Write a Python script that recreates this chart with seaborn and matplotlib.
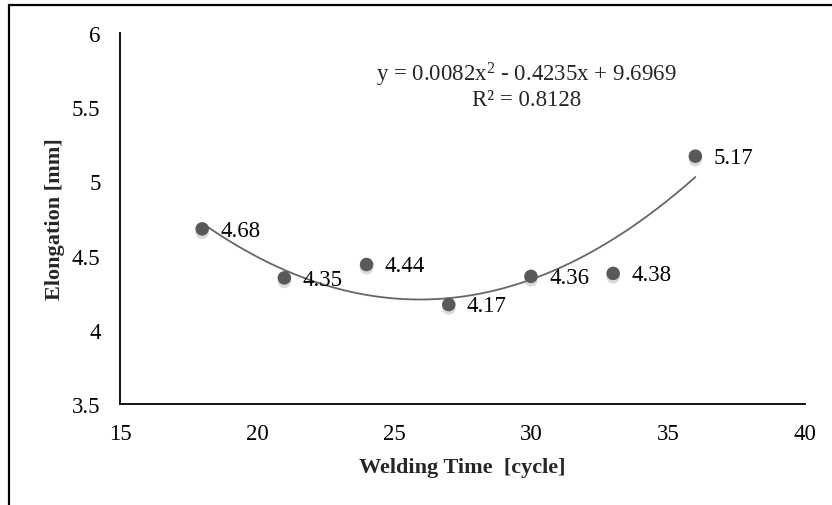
import numpy as np
import pandas as pd
import seaborn as sns
import matplotlib.pyplot as plt
import matplotlib.patheffects as pe
from matplotlib.lines import Line2D

# dados
welding_time = [18, 21, 24, 27, 30, 33, 36]
elongation = [4.68, 4.35, 4.44, 4.17, 4.36, 4.38, 5.17]
point_labels = ["4.68", "4.35", "4.44", "4.17", "4.36", "4.38", "5.17"]
x_ticks = [15, 20, 25, 30, 35, 40]
y_ticks = [3.5, 4, 4.5, 5, 5.5, 6]
y_tick_labels = ["3.5", "4", "4.5", "5", "5.5", "6"]
equation_text = "y = 0.0082x$^2$ - 0.4235x + 9.6969"
r2_text = "R² = 0.8128"

df = pd.DataFrame({"Welding Time": welding_time, "Elongation": elongation})

sns.set_theme(style="white")
plt.rcParams["font.family"] = ["Liberation Serif", "DejaVu Serif"]
plt.rcParams["mathtext.fontset"] = "custom"
plt.rcParams["mathtext.rm"] = "Liberation Serif"
plt.rcParams["mathtext.it"] = "Liberation Serif"

fig = plt.figure(figsize=(8.32, 5.06), dpi=100)
ax = fig.add_axes([0.1442, 0.1996, 0.8233, 0.7332])

# linha de tendência polinomial (ordem 2)
sns.regplot(data=df, x="Welding Time", y="Elongation", order=2, ci=None,
            scatter=False, truncate=True, ax=ax,
            line_kws=dict(color="#666666", linewidth=1.3))

# pontos com sombra leve
sns.scatterplot(data=df, x="Welding Time", y="Elongation", ax=ax, s=95,
                color="#595959", edgecolor="none", zorder=3)
for coll in ax.collections:
    coll.set_path_effects([pe.SimplePatchShadow(offset=(0, -2.5), shadow_rgbFace="#9a9a9a", alpha=0.35),
                           pe.Normal()])

for xv, yv, lab in zip(welding_time, elongation, point_labels):
    ax.annotate(lab, (xv, yv), xytext=(13, -1), textcoords="offset points",
                ha="left", va="center", fontsize=16.5, color="black")

ax.text(0.593, 0.891, equation_text, transform=ax.transAxes, ha="center", va="center", fontsize=16.5)
ax.text(0.593, 0.821, r2_text, transform=ax.transAxes, ha="center", va="center", fontsize=16.5)

ax.set_xlim(15, 40)
ax.set_ylim(3.5, 6)
ax.set_xticks(x_ticks)
ax.set_yticks(y_ticks)
ax.set_yticklabels(y_tick_labels)
ax.tick_params(axis="both", length=0, labelsize=16.5, colors="black")
ax.tick_params(axis="y", pad=14)
ax.tick_params(axis="x", pad=14)

ax.set_xlabel("Welding Time  [cycle]", fontsize=16, fontweight="bold", labelpad=9)
ax.set_ylabel("Elongation [mm]", fontsize=16, fontweight="bold", labelpad=5)

sns.despine(ax=ax)
for side in ["left", "bottom"]:
    ax.spines[side].set_color("black")
    ax.spines[side].set_linewidth(1.3)

# moldura (esquerda e topo)
fig.add_artist(Line2D([0.0108, 0.0108], [0.0, 0.988], transform=fig.transFigure, color="black", linewidth=1.6))
fig.add_artist(Line2D([0.0108, 1.0], [0.988, 0.988], transform=fig.transFigure, color="black", linewidth=1.6))

fig.savefig("out.png", dpi=100)
